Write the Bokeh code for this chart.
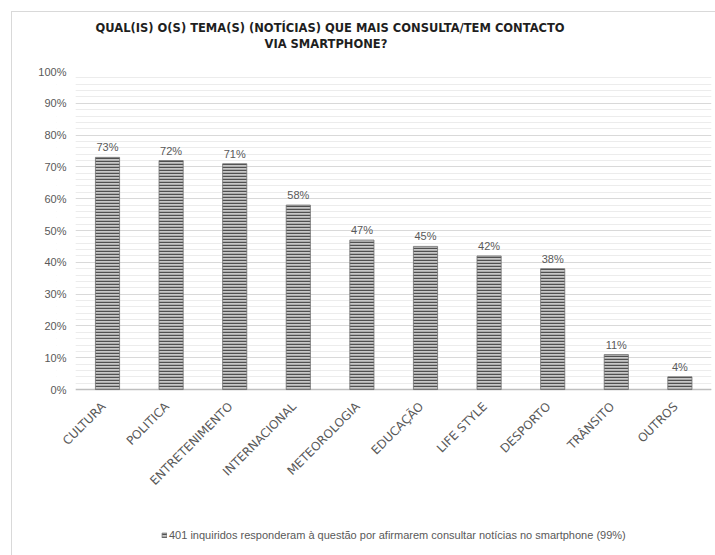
import math
from bokeh.plotting import figure
from bokeh.models import (ColumnDataSource, Range1d, FixedTicker, NumeralTickFormatter,
                          Legend, LegendItem, Title, Span, BoxAnnotation)
from bokeh.core.properties import value
from bokeh.embed import file_html
from bokeh.resources import INLINE

categories = ["CULTURA", "POLITICA", "ENTRETENIMENTO", "INTERNACIONAL", "METEOROLOGIA",
              "EDUCAÇÃO", "LIFE STYLE", "DESPORTO", "TRÂNSITO", "OUTROS"]
values = [0.73, 0.72, 0.71, 0.58, 0.47, 0.45, 0.42, 0.38, 0.11, 0.04]
value_labels = ["73%", "72%", "71%", "58%", "47%", "45%", "42%", "38%", "11%", "4%"]
y_ticks = [0.0, 0.1, 0.2, 0.3, 0.4, 0.5, 0.6, 0.7, 0.8, 0.9, 1.0]
series_name = "401 inquiridos responderam à questão por afirmarem consultar notícias no smartphone (99%)"
title_line1 = "QUAL(IS) O(S) TEMA(S) (NOTÍCIAS) QUE MAIS CONSULTA/TEM CONTACTO"
title_line2 = "VIA SMARTPHONE?"

FONT = "Liberation Sans"
GREY = "#595959"

# category slots 0..n-1 on a numeric axis
src = ColumnDataSource(dict(x=list(range(len(categories))), cat=categories,
                            val=values, lab=value_labels))

# frame extends a little left of the first slot (for the rotated first label)
# and down to the bottom edge so category labels and legend can sit inside it
p = figure(width=704, height=544, x_range=Range1d(-0.802, len(categories) - 0.503),
           y_range=Range1d(-0.525, 1), output_backend="svg", toolbar_location=None,
           min_border_left=44, min_border_right=5, min_border_top=59, min_border_bottom=0,
           margin=(11, 0, 0, 11),
           styles={"border-top": "1px solid #d9d9d9", "border-left": "1px solid #d9d9d9"})
p.title = None
p.outline_line_color = None
p.background_fill_color = "white"
p.border_fill_color = "white"

# spacer between frame and title, then the two title lines (added from the frame outward)
p.add_layout(Title(text=" ", text_font_size="1px", standoff=18), "above")
for txt, off in [(title_line2, 208), (title_line1, 39)]:
    p.add_layout(Title(text=txt, align="left", offset=off, standoff=0,
                       text_font="DejaVu Sans", text_font_size="11.5px",
                       text_font_style="bold", text_color="#1f1f1f"), "above")

r = p.vbar(x="x", top="val", width=0.38, source=src, fill_color="#c8c8c8",
           line_color="#707070", line_width=0.8, hatch_pattern="horizontal_line",
           hatch_color="#505050", hatch_scale=3.0, hatch_weight=1.5)

p.text(x="x", y="val", text="lab", source=src, text_align="center", text_baseline="bottom",
       y_offset=-4, text_font=value(FONT), text_font_size="11px", text_color=GREY)

# category labels (rotated 45°) under the baseline
p.text(x="x", y=0, text="cat", source=src, angle=math.pi / 4, text_align="right",
       text_baseline="top", x_offset=-9, y_offset=10, text_font=value("DejaVu Sans"),
       text_font_size="12px", text_color=GREY)

ticker = FixedTicker(ticks=y_ticks,
                     minor_ticks=[round(t + k * 0.02, 2) for t in y_ticks[:-1] for k in range(1, 5)])
p.yaxis.ticker = ticker
p.yaxis.formatter = NumeralTickFormatter(format="0%")
p.yaxis.axis_line_color = None
p.yaxis.major_tick_line_color = None
p.yaxis.minor_tick_line_color = None
p.yaxis.major_label_text_font = FONT
p.yaxis.major_label_text_font_size = "11px"
p.yaxis.major_label_text_color = GREY
p.yaxis.major_label_standoff = -16

p.ygrid.ticker = ticker
p.ygrid.grid_line_color = "#d9d9d9"
p.ygrid.minor_grid_line_color = "#ececec"
p.xgrid.grid_line_color = None
p.xaxis.visible = False

p.add_layout(Span(location=0, dimension="width", line_color="#bfbfbf", line_width=1.5,
                  level="underlay"))
# keep the grid/baseline from running into the strip left of the first slot
p.add_layout(BoxAnnotation(left=-0.802, right=-0.5, bottom=-0.012, top=1.01,
                           fill_color="white", fill_alpha=1, line_color=None, level="glyph"))

legend = Legend(items=[LegendItem(label=series_name, renderers=[r])], location=(105, 15),
                orientation="horizontal", border_line_color=None, background_fill_alpha=0,
                label_text_font=FONT, label_text_font_size="11px", label_text_color=GREY,
                glyph_width=6, glyph_height=6, label_standoff=2, padding=0, margin=0)
p.add_layout(legend, "center")

open("out.html", "w").write(file_html(p, INLINE))
